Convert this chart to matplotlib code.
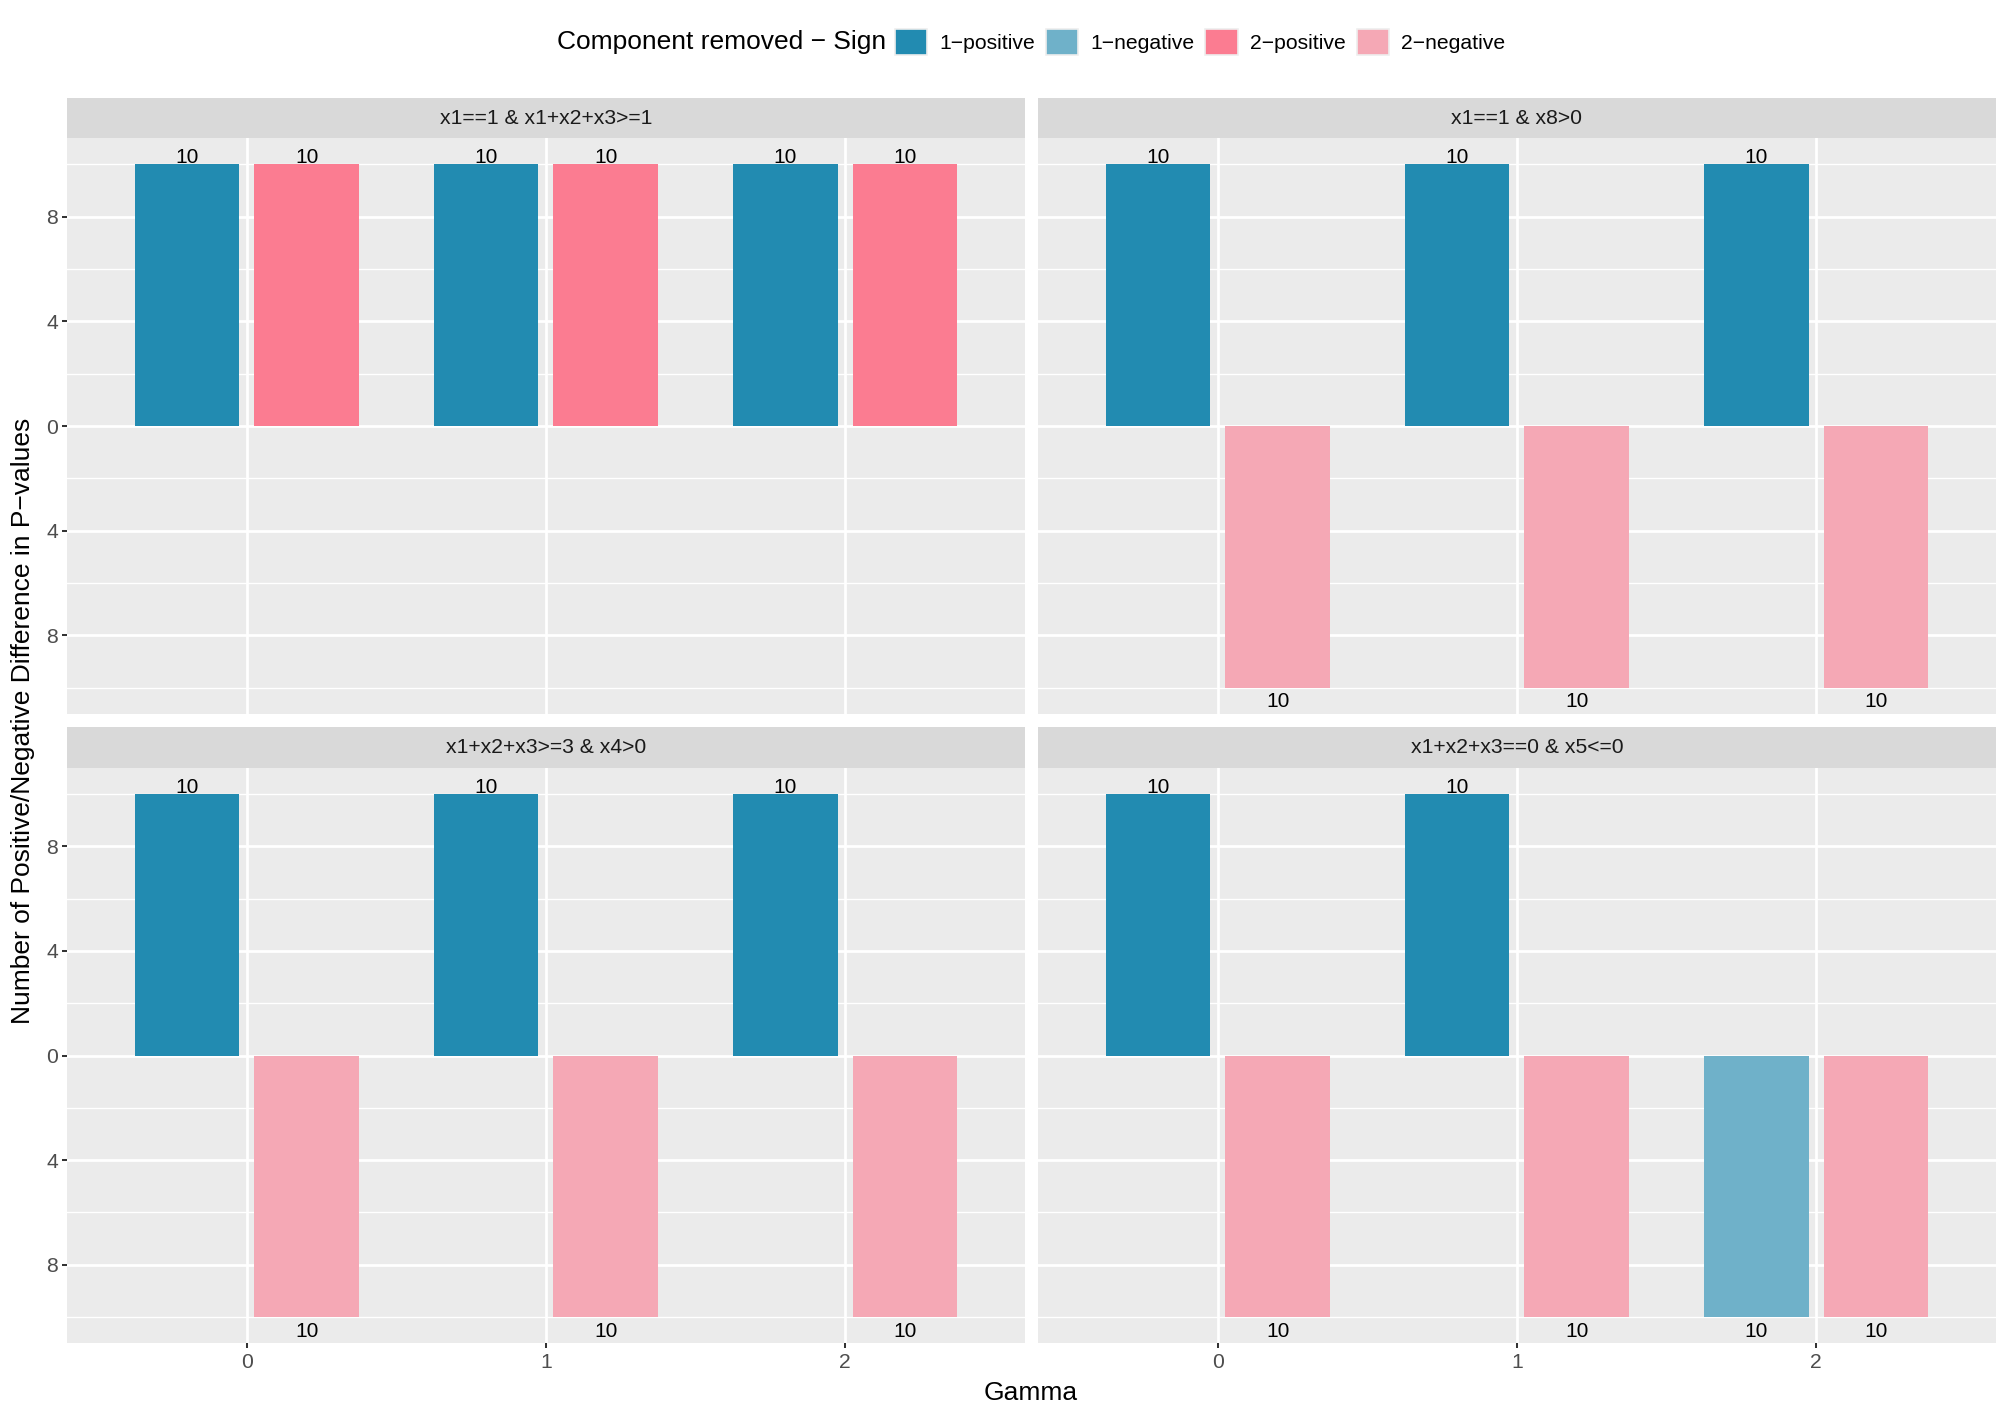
import matplotlib
matplotlib.use("Agg")
import matplotlib.pyplot as plt
from matplotlib.patches import Patch
from matplotlib.ticker import FuncFormatter

# ---------------- data ----------------
panel_titles = ["x1==1 & x1+x2+x3>=1", "x1==1 & x8>0",
                "x1+x2+x3>=3 & x4>0", "x1+x2+x3==0 & x5<=0"]
gamma = [0, 1, 2]
# signed counts (positive -> "positive", negative -> "negative")
comp1_values = [[10, 10, 10],
                [10, 10, 10],
                [10, 10, 10],
                [10, 10, -10]]
comp2_values = [[10, 10, 10],
                [-10, -10, -10],
                [-10, -10, -10],
                [-10, -10, -10]]
legend_labels = ["1\u2212positive", "1\u2212negative", "2\u2212positive", "2\u2212negative"]
y_ticks = [-8, -4, 0, 4, 8]
y_minor = [-10, -6, -2, 2, 6, 10]

colors = {"1-positive": "#228BB1", "1-negative": "#6FB1C9",
          "2-positive": "#FB7C91", "2-negative": "#F5A8B5"}
color_list = [colors["1-positive"], colors["1-negative"],
              colors["2-positive"], colors["2-negative"]]

plt.rcParams["font.family"] = ["Liberation Sans", "DejaVu Sans"]

W, H = 2007, 1419
fig = plt.figure(figsize=(W / 100, H / 100), dpi=100)
fig.patch.set_facecolor("white")

def fx(px):
    return px / W

def fy(py):
    return 1 - py / H

left_px = [67.3, 1038.3]
width_px = 957.3
top_px = [138.3, 767.7]
height_px = 575.6
strip_h = 40.5

bar_w = 0.35
offset = 0.2

for i, title in enumerate(panel_titles):
    row, col = divmod(i, 2)
    L, T = left_px[col], top_px[row]
    ax = fig.add_axes([fx(L), fy(T + height_px), width_px / W, height_px / H])
    ax.set_facecolor("#EBEBEB")
    for s in ax.spines.values():
        s.set_visible(False)
    ax.set_xlim(-0.6, 2.6)
    ax.set_ylim(-11, 11)
    ax.set_xticks(gamma)
    ax.set_yticks(y_ticks)
    ax.set_yticks(y_minor, minor=True)
    ax.yaxis.set_major_formatter(FuncFormatter(lambda v, p: f"{abs(int(round(v)))}"))
    ax.set_axisbelow(True)
    ax.grid(which="major", color="white", linewidth=1.95)
    ax.grid(which="minor", axis="y", color="white", linewidth=0.97)
    ax.tick_params(which="minor", length=0)
    ax.tick_params(which="major", length=3.7, width=1.45, color="#333333",
                   labelsize=15.2, labelcolor="#4D4D4D", pad=3)
    if col != 0:
        ax.tick_params(axis="y", left=False, labelleft=False)
    if row == 0:
        ax.tick_params(axis="x", bottom=False, labelbottom=False)

    v1 = comp1_values[i]
    v2 = comp2_values[i]
    x1 = [g - offset for g in gamma]
    x2 = [g + offset for g in gamma]
    c1 = [colors["1-positive"] if v > 0 else colors["1-negative"] for v in v1]
    c2 = [colors["2-positive"] if v > 0 else colors["2-negative"] for v in v2]
    ax.bar(x1, v1, width=bar_w, color=c1, linewidth=0, zorder=2)
    ax.bar(x2, v2, width=bar_w, color=c2, linewidth=0, zorder=2)
    for xs, vs in ((x1, v1), (x2, v2)):
        for x, v in zip(xs, vs):
            if v > 0:
                ax.annotate(str(abs(v)), (x, v), xytext=(0, 0.9), textcoords="offset points",
                            ha="center", va="baseline", fontsize=15, color="black", zorder=3)
            else:
                ax.annotate(str(abs(v)), (x, v), xytext=(0, -3.3), textcoords="offset points",
                            ha="center", va="top", fontsize=15, color="black", zorder=3)

    sax = fig.add_axes([fx(L), fy(T), width_px / W, strip_h / H])
    sax.set_facecolor("#D9D9D9")
    sax.set_xticks([])
    sax.set_yticks([])
    for s in sax.spines.values():
        s.set_visible(False)
    sax.text(0.5, 0.5, title, ha="center", va="center", fontsize=15.2,
             color="#1A1A1A", transform=sax.transAxes)

# axis titles
fig.text(fx(23), fy((97.7 + 1343.3) / 2), "Number of Positive/Negative Difference in P\u2212values",
         rotation=90, ha="center", va="center", fontsize=19, color="black")
fig.text(fx((67.3 + 1995) / 2), fy(1393), "Gamma", ha="center", va="center",
         fontsize=19, color="black")

# legend
handles = [Patch(facecolor=c, edgecolor="#EEEEEE", linewidth=1.2) for c in color_list]
leg = fig.legend(handles, legend_labels, loc="center left",
                 bbox_to_anchor=(fx(895), fy(42)), ncol=4, frameon=False,
                 fontsize=15.2, handlelength=1.52, handleheight=1.52,
                 handletextpad=0.6, columnspacing=0.5, borderpad=0,
                 borderaxespad=0)
fig.text(fx(886), fy(42), "Component removed \u2212 Sign", ha="right", va="center",
         fontsize=19, color="black")

fig.savefig("out.png", dpi=100)
